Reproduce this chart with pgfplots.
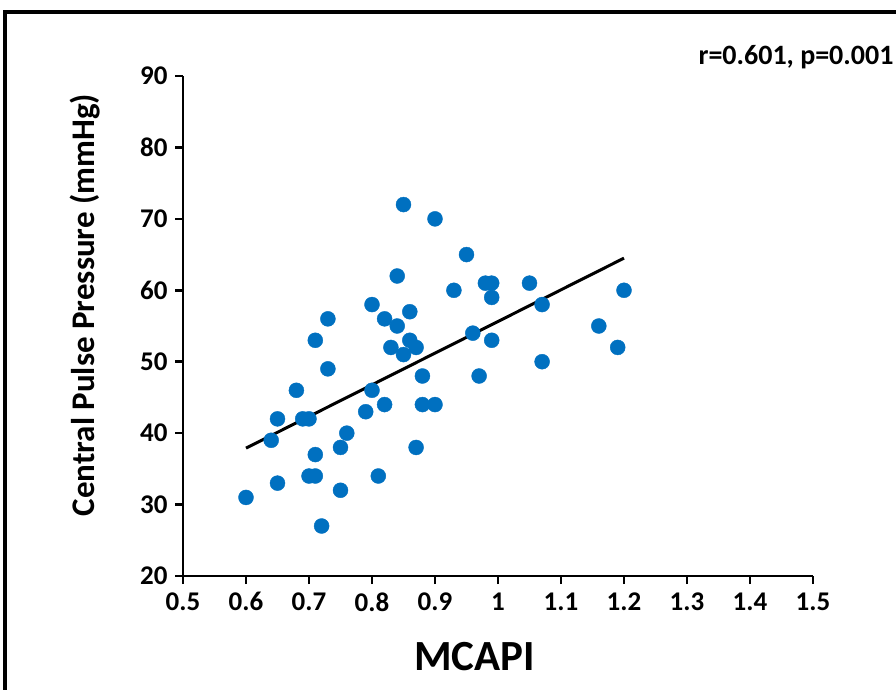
\documentclass[border=0pt]{standalone}
\usepackage{fontspec}
\setmainfont{Carlito}
\usepackage{pgfplots}
\pgfplotsset{compat=1.18}
\definecolor{mblue}{RGB}{0,112,192}
\begin{document}
\begin{tikzpicture}
\useasboundingbox (0,0) rectangle (896pt,689pt);
\draw[line width=3.5pt] (5pt,-20pt) -- (5pt,677pt) -- (920pt,677pt);
\begin{axis}[
  at={(183pt,113pt)}, anchor=south west,
  scale only axis, width=630pt, height=500pt,
  xmin=0.5, xmax=1.5, ymin=20, ymax=90,
  axis lines=left, axis line style={line width=2.5pt,-},
  tick align=outside, major tick length=8pt,
  every tick/.style={line width=2.5pt, black},
  xtick={0.5,0.6,0.7,0.8,0.9,1.0,1.1,1.2,1.3,1.4,1.5},
  xticklabels={0.5,0.6,0.7,0.8,0.9,1,1.1,1.2,1.3,1.4,1.5},
  ytick={20,30,40,50,60,70,80,90},
  /pgf/number format/assume math mode=true,
  tick label style={font=\fontsize{27}{30}\selectfont\bfseries},
  yticklabel style={xshift=-4pt},
  xticklabel style={yshift=-5pt},
  xlabel={MCAPI},
  ylabel={Central Pulse Pressure (mmHg)},
  xlabel style={font=\fontsize{43}{46}\selectfont\bfseries, at={(axis description cs:0.463,-0.162)}, anchor=center},
  ylabel style={font=\fontsize{33}{36}\selectfont\bfseries, at={(axis description cs:-0.1556,0.542)}, anchor=center, rotate=0},
  clip=false,
]
\addplot[only marks, mark=*, mark size=7.5pt, mark options={fill=mblue, draw=mblue}] coordinates {
(0.60,31) (0.64,39) (0.65,42) (0.65,33) (0.68,46) (0.69,42) (0.70,42) (0.70,34)
(0.71,34) (0.71,37) (0.71,53) (0.72,27) (0.73,56) (0.73,49) (0.75,38) (0.75,32)
(0.76,40) (0.79,43) (0.80,58) (0.80,46) (0.81,34) (0.82,56) (0.82,44) (0.83,52)
(0.84,62) (0.84,55) (0.85,72) (0.85,51) (0.86,57) (0.86,53) (0.87,52) (0.87,38)
(0.88,48) (0.88,44) (0.90,70) (0.90,44) (0.93,60) (0.95,65) (0.96,54) (0.97,48)
(0.98,61) (0.99,61) (0.99,59) (0.99,53) (1.05,61) (1.07,58) (1.07,50) (1.16,55)
(1.19,52) (1.20,60)
};
\addplot[black, line width=3pt] coordinates {(0.60,37.9) (1.20,64.5)};
\end{axis}
\node[anchor=east, font=\fontsize{28}{32}\selectfont\bfseries] at (897pt,632pt) {r=0.601, p=0.001};
\end{tikzpicture}
\end{document}
